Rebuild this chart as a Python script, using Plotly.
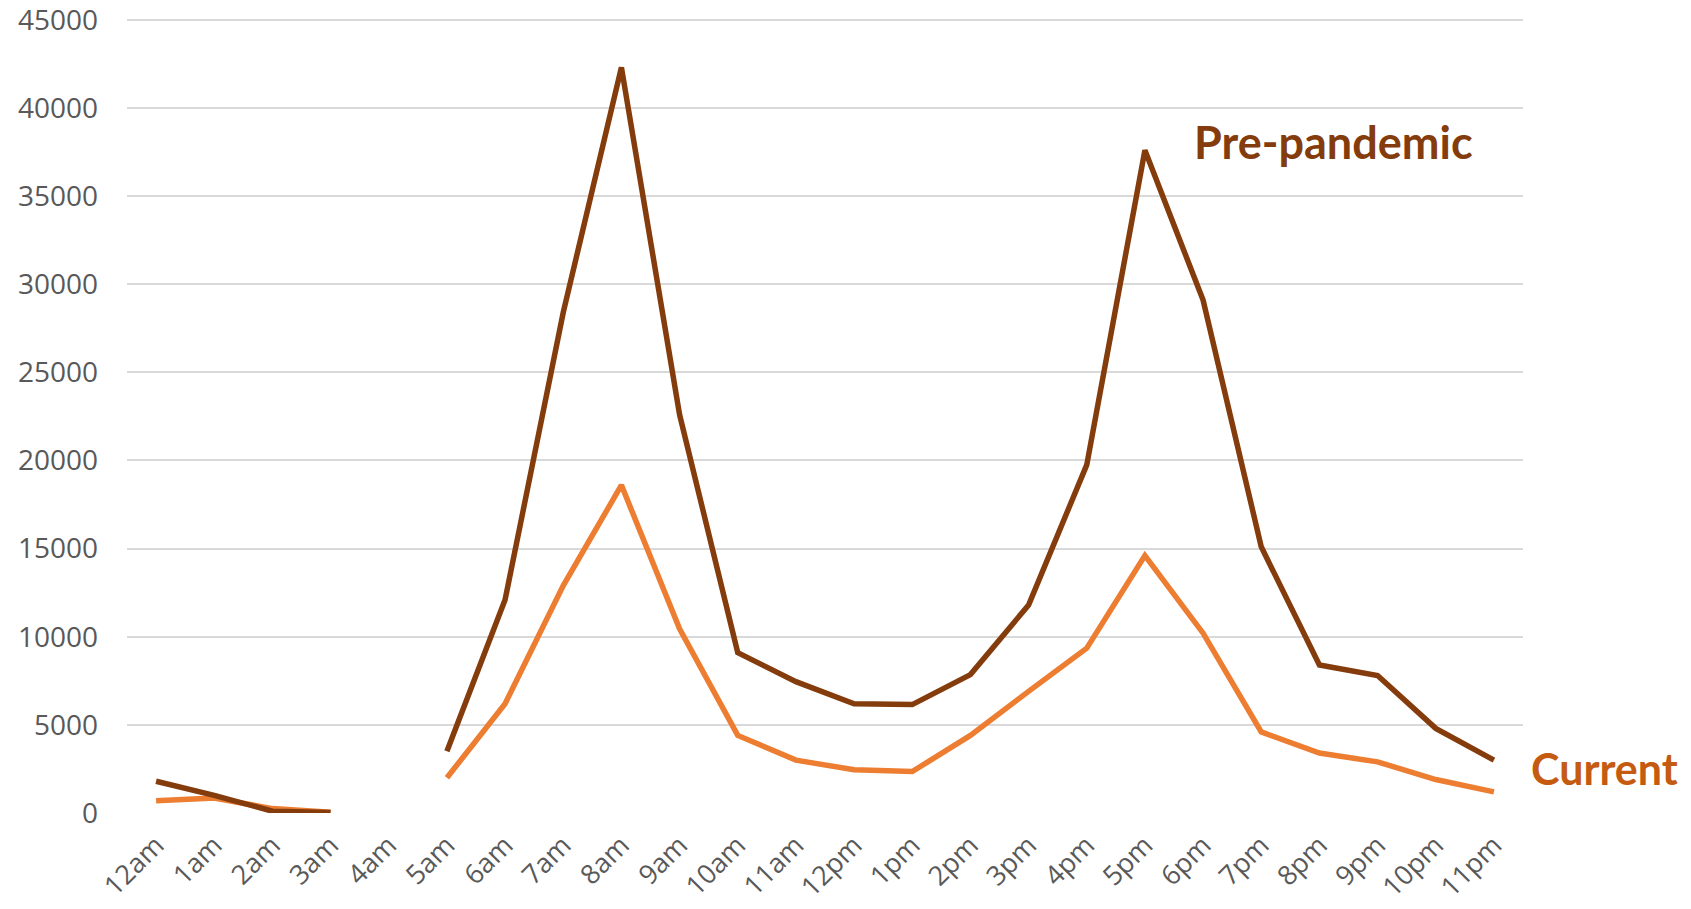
import plotly.graph_objects as go

hours = ["12am", "1am", "2am", "3am", "4am", "5am", "6am", "7am", "8am", "9am", "10am", "11am",
         "12pm", "1pm", "2pm", "3pm", "4pm", "5pm", "6pm", "7pm", "8pm", "9pm", "10pm", "11pm"]

pre_pandemic = [1800, 1000, 100, 30, None, 3500, 12100, 28400, 42300, 22600, 9100, 7450,
                6200, 6150, 7850, 11800, 19750, 37600, 29100, 15100, 8400, 7800, 4800, 3000]

current = [700, 850, 250, 50, None, 2000, 6200, 12900, 18600, 10450, 4400, 3000,
           2450, 2350, 4400, 6900, 9350, 14600, 10200, 4600, 3400, 2900, 1900, 1200]

y_ticks = [0, 5000, 10000, 15000, 20000, 25000, 30000, 35000, 40000, 45000]

fig = go.Figure()
fig.add_trace(go.Scatter(x=hours, y=current, mode="lines", name="Current",
                         line=dict(color="#ED7D31", width=5.5), connectgaps=False))
fig.add_trace(go.Scatter(x=hours, y=pre_pandemic, mode="lines", name="Pre-pandemic",
                         line=dict(color="#843C0C", width=5.5), connectgaps=False))

fig.add_annotation(text="<b>Pre-pandemic</b>", x=0.864, xref="paper", y=38050, yref="y",
                   showarrow=False, xanchor="center", yanchor="middle",
                   font=dict(family="Lato", size=45, color="#843C0C"))
fig.add_annotation(text="<b>Current</b>", x=1.004, xref="paper", y=2550, yref="y",
                   showarrow=False, xanchor="left", yanchor="middle",
                   font=dict(family="Lato", size=43, color="#C55A11"))

fig.update_layout(
    width=1691, height=909,
    margin=dict(l=127, r=168, t=11, b=96),
    paper_bgcolor="white", plot_bgcolor="white",
    showlegend=False,
    xaxis=dict(type="category", range=[-0.5, 23.5], tickangle=-45, automargin=False,
               showgrid=False, showline=False, ticks="",
               tickfont=dict(family="Open Sans", size=27, color="#595959"),
               ticklabelstandoff=10, ticklabeloverflow="allow"),
    yaxis=dict(range=[0, 45500], tickvals=y_ticks, tickformat="d", automargin=False,
               showgrid=True, gridcolor="#D9D9D9",
               gridwidth=2, zeroline=False, showline=False, ticks="",
               tickfont=dict(family="Open Sans", size=28, color="#595959"),
               ticklabelstandoff=28, ticklabeloverflow="allow"),
)

fig.write_html("out.html", config={"displayModeBar": False},
               post_script="document.body.style.margin='0';")
